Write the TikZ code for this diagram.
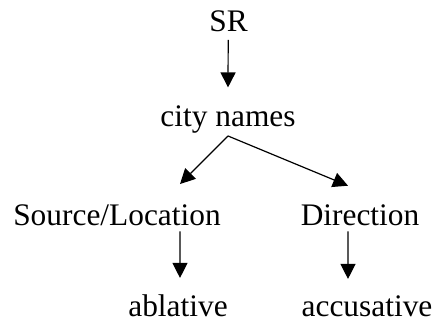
\documentclass[tikz,border=0pt]{standalone}
\usepackage{fontspec}
\setmainfont{Liberation Serif}
\usetikzlibrary{arrows.meta}
\begin{document}
\begin{tikzpicture}[x=1bp,y=-1bp,
  lbl/.style={inner sep=0pt, outer sep=0pt, anchor=base, font=\fontsize{31.5}{36}\selectfont},
  arr/.style={line width=1.2bp, -{Triangle[length=15bp,width=15bp]}}]
\useasboundingbox (0,0) rectangle (437,324);
\node[lbl] (sr) at (228.5,31) {SR};
\node[lbl] (city) at (228,126.7) {city names};
\node[lbl] (src) at (117,225) {Source/Location};
\node[lbl] (dir) at (360,225) {Direction};
\node[lbl] (abl) at (178,316.7) {ablative};
\node[lbl] (acc) at (367,316.7) {accusative};
\draw[arr] ([xshift=-0.3bp,yshift=-8.5bp]sr.south) -- ([yshift=18.5bp]city.north);
\draw[arr] ([yshift=-2.5bp]city.south) -- ([xshift=63bp,yshift=20.2bp]src.north);
\draw[arr] ([yshift=-2.5bp]city.south) -- ([xshift=-12bp,yshift=18.5bp]dir.north);
\draw[arr] ([xshift=63bp,yshift=-6bp]src.south) -- ([xshift=2bp,yshift=17bp]abl.north);
\draw[arr] ([xshift=-12bp,yshift=-6bp]dir.south) -- ([xshift=-19bp,yshift=17bp]acc.north);
\end{tikzpicture}
\end{document}
